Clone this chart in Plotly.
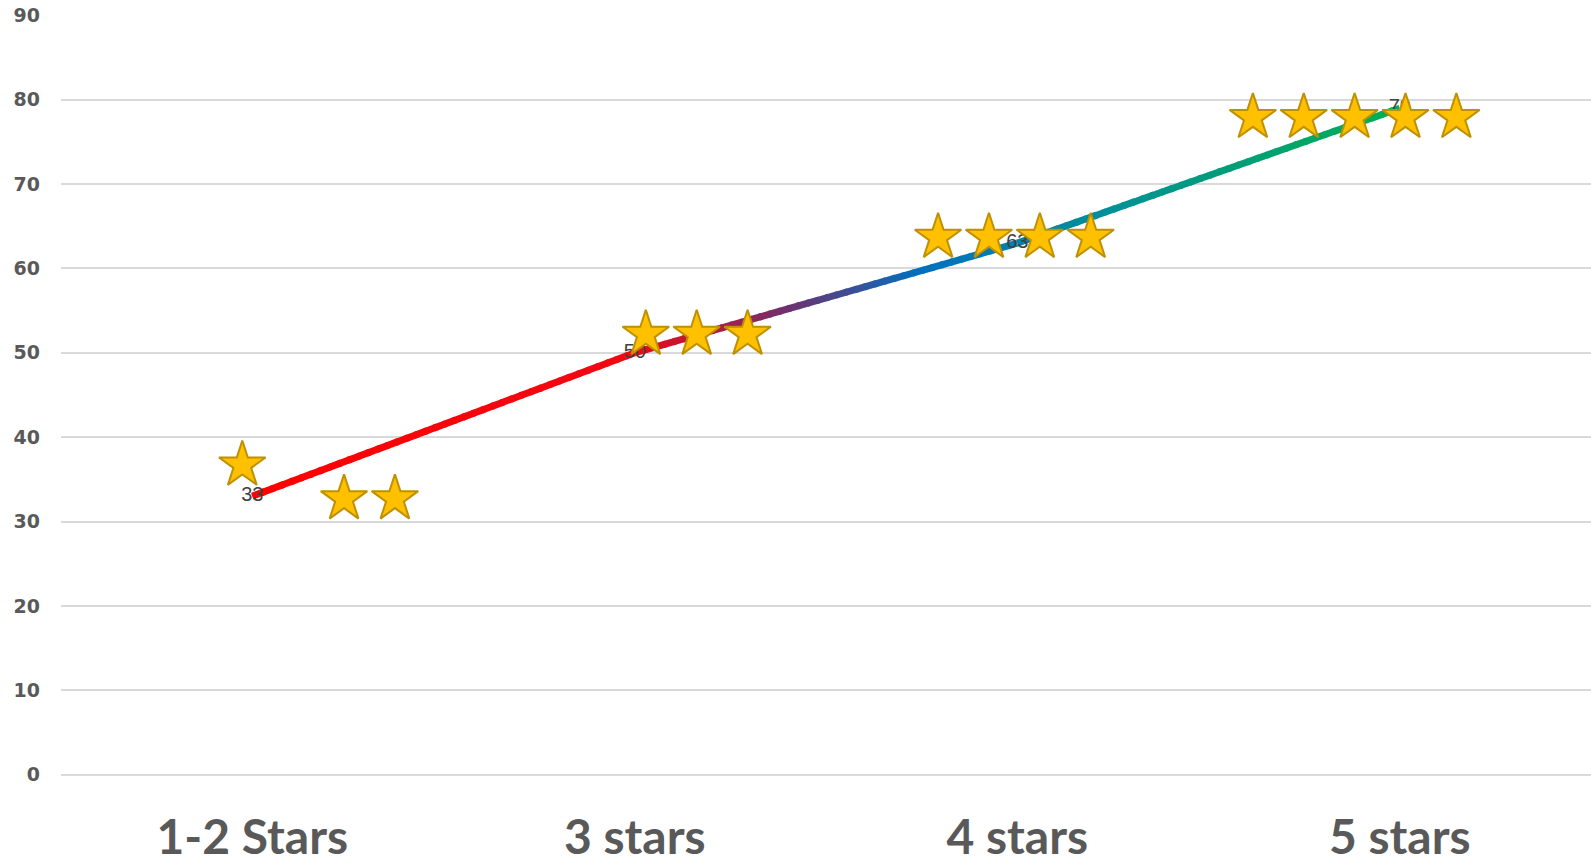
import numpy as np
import plotly.graph_objects as go

# ---- data -------------------------------------------------------------
categories = ["1-2 Stars", "3 stars", "4 stars", "5 stars"]
scores = [33, 50, 63, 79]

# star pictograms drawn above each category: slot index and level of each star
star_slots = [[0, 2, 3], [0, 1, 2], [0, 1, 2, 3], [0, 1, 2, 3, 4]]
star_levels = [
    [36.7, 32.7, 32.7],
    [52.2, 52.2, 52.2],
    [63.7, 63.7, 63.7, 63.7],
    [77.9, 77.9, 77.9, 77.9, 77.9],
]

y_ticks = [0, 10, 20, 30, 40, 50, 60, 70, 80, 90]

# ---- styling / layout -------------------------------------------------
W, H = 1591, 867
STAR_ROW_START = [-0.026, 0.029, -0.207, -0.384]   # x offset of slot 0 per category
STAR_STEP = 0.133                                    # x distance between slots
# colour stops of the gradient line, keyed by x position (category units)
GRAD_STOPS = [
    (0.00, (255, 0, 0)),
    (1.00, (240, 8, 20)),
    (1.40, (112, 48, 110)),
    (1.75, (0, 112, 192)),
    (2.25, (0, 145, 150)),
    (3.00, (0, 176, 80)),
]
GRID = "#D9D9D9"
AXIS_TEXT = "#595959"

x_pos = list(range(len(categories)))


def grad_color(x):
    xs = [s[0] for s in GRAD_STOPS]
    rgb = [int(round(np.interp(x, xs, [s[1][i] for s in GRAD_STOPS]))) for i in range(3)]
    return f"rgb({rgb[0]},{rgb[1]},{rgb[2]})"


fig = go.Figure()

# gradient line: each data segment is split into short coloured pieces
N_SUB = 40
for i in range(len(scores) - 1):
    x0, x1 = x_pos[i], x_pos[i + 1]
    y0, y1 = scores[i], scores[i + 1]
    ts = np.linspace(0, 1, N_SUB + 1)
    for k in range(N_SUB):
        ta, tb = ts[k], min(ts[k + 1] + 0.3 / N_SUB, 1.0)
        xa, xb = x0 + (x1 - x0) * ta, x0 + (x1 - x0) * tb
        ya, yb = y0 + (y1 - y0) * ta, y0 + (y1 - y0) * tb
        fig.add_trace(go.Scatter(
            x=[xa, xb], y=[ya, yb], mode="lines",
            line=dict(color=grad_color((xa + xb) / 2), width=7),
            hoverinfo="skip", showlegend=False,
        ))

# value labels centred on the points
fig.add_trace(go.Scatter(
    x=x_pos, y=scores, mode="text",
    text=[str(v) for v in scores], textposition="middle center",
    textfont=dict(family="Liberation Sans, Arial, sans-serif", size=20, color="#404040"),
    showlegend=False, hoverinfo="skip", cliponaxis=False,
))

# star pictograms
sx, sy = [], []
for ci, (slots, levels) in enumerate(zip(star_slots, star_levels)):
    for s, lv in zip(slots, levels):
        sx.append(x_pos[ci] + STAR_ROW_START[ci] + s * STAR_STEP)
        sy.append(lv)
fig.add_trace(go.Scatter(
    x=sx, y=sy, mode="markers",
    marker=dict(symbol="star", size=35, color="#FFC000",
                line=dict(color="#BF9000", width=2)),
    showlegend=False, hoverinfo="skip", cliponaxis=False,
))

fig.update_layout(
    width=W, height=H,
    margin=dict(l=61, r=0, t=15, b=92),
    paper_bgcolor="white", plot_bgcolor="white",
    xaxis=dict(
        range=[-0.5, len(categories) - 0.5],
        tickmode="array", tickvals=x_pos, ticktext=categories,
        showgrid=False, zeroline=False, showline=False, ticks="",
        tickfont=dict(family="Liberation Sans Narrow, Arial Narrow, Lato, sans-serif",
                      size=48, color=AXIS_TEXT, weight="bold"),
        ticklabelstandoff=30, automargin=False,
    ),
    yaxis=dict(
        range=[-0.05, 90.05], tickmode="array", tickvals=y_ticks,
        showgrid=True, gridcolor=GRID, gridwidth=1.5,
        zeroline=True, zerolinecolor=GRID, zerolinewidth=1.5, showline=False, ticks="",
        tickfont=dict(family="DejaVu Sans, Verdana, sans-serif",
                      size=19, color=AXIS_TEXT, weight="bold"),
        ticklabelstandoff=20, automargin=False,
    ),
)

fig.write_html("out.html")
